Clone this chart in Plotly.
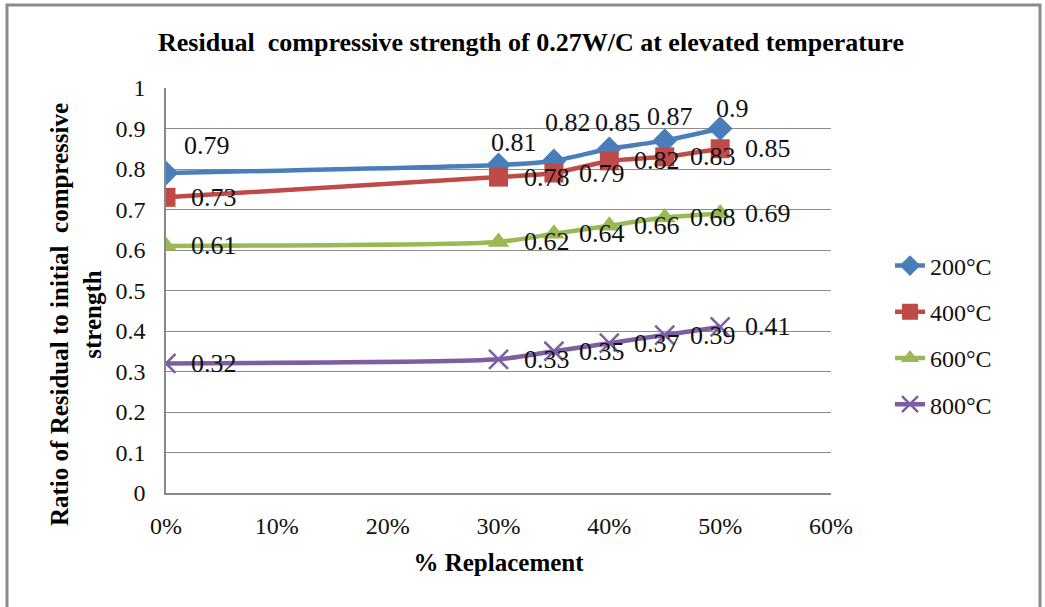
import plotly.graph_objects as go

x_vals = [0.0, 0.30, 0.35, 0.40, 0.45, 0.50]
series_names = ["200°C", "400°C", "600°C", "800°C"]
s200 = [0.79, 0.81, 0.82, 0.85, 0.87, 0.90]
s400 = [0.73, 0.78, 0.79, 0.82, 0.83, 0.85]
s600 = [0.61, 0.62, 0.64, 0.66, 0.68, 0.69]
s800 = [0.32, 0.33, 0.35, 0.37, 0.39, 0.41]
x_ticks = [0, 0.1, 0.2, 0.3, 0.4, 0.5, 0.6]
x_ticklabels = ["0%", "10%", "20%", "30%", "40%", "50%", "60%"]
y_ticks = [0, 0.1, 0.2, 0.3, 0.4, 0.5, 0.6, 0.7, 0.8, 0.9, 1]

colors = ["#4a7ebb", "#be4b48", "#98b954", "#7d5fa0"]
symbols = ["diamond", "square", "triangle-up", "x-thin"]
msizes = [19, 19, 19, 19]
all_series = [s200, s400, s600, s800]

# label offsets (pixels) per series: 200°C above, others right
label_dx = {0: [41, 15, 14, 9, 5, 12]}
label_dy = {0: [-28, -22, -38, -26, -24, -20]}

FONT = "Liberation Serif, Times New Roman, serif"

fig = go.Figure()
annotations = []
for i, (name, ys) in enumerate(zip(series_names, all_series)):
    marker = dict(symbol=symbols[i], size=msizes[i], color=colors[i])
    if symbols[i] == "x-thin":
        marker["line"] = dict(color=colors[i], width=2.5)
    fig.add_trace(go.Scatter(
        x=x_vals, y=ys, name=name, mode="lines+markers",
        line=dict(color=colors[i], width=4.5, shape="spline", smoothing=0.6),
        marker=marker, legendgroup=name,
    ))
    for j, (xv, yv) in enumerate(zip(x_vals, ys)):
        if i in label_dx:
            dx, dy = label_dx[i][j], label_dy[i][j]
        else:
            dx, dy = 48, 0
        annotations.append(dict(
            x=xv, y=yv, xref="x", yref="y", text=f"{yv:g}", showarrow=False,
            xshift=dx, yshift=-dy, xanchor="center", yanchor="middle",
            font=dict(family=FONT, size=26, color="#111111"),
        ))

annotations.append(dict(
    x=-0.135, y=0.44, xref="paper", yref="paper", textangle=-90,
    text="<b>Ratio of Residual to initial  compressive<br>strength</b>",
    showarrow=False, xanchor="center", yanchor="middle",
    font=dict(family=FONT, size=25, color="#000000"),
))

L, R, T, B = 166, 214, 88, 114
W, H = 1045, 607
pw, ph = W - L - R, H - T - B

def px2paper_x(px):
    return (px - L) / pw

def px2paper_y(py):
    return (H - B - py) / ph

fig.update_layout(
    width=W, height=H,
    margin=dict(l=L, r=R, t=T, b=B, pad=0),
    paper_bgcolor="white", plot_bgcolor="white",
    title=dict(text="<b>Residual  compressive strength of 0.27W/C at elevated temperature</b>",
               x=531 / W, xanchor="center", y=1 - 42 / H, yanchor="middle",
               font=dict(family=FONT, size=26, color="#000000")),
    font=dict(family=FONT, size=24, color="#111111"),
    showlegend=True,
    legend=dict(x=px2paper_x(890), xanchor="left", y=px2paper_y(335), yanchor="middle",
                font=dict(family=FONT, size=24, color="#111111"),
                traceorder="grouped", tracegroupgap=12, bgcolor="rgba(0,0,0,0)"),
    xaxis=dict(range=[0, 0.6], tickvals=x_ticks, ticktext=x_ticklabels,
               showgrid=False, zeroline=False, showline=True, linecolor="#888888",
               linewidth=1.5, ticks="", ticklabelstandoff=10,
               title=dict(text="<b>% Replacement</b>", font=dict(family=FONT, size=25, color="#000000"),
                          standoff=16),
               tickfont=dict(family=FONT, size=24, color="#111111")),
    yaxis=dict(range=[0, 1], tickvals=y_ticks, showgrid=True, gridcolor="#8c8c8c", gridwidth=1.3,
               zeroline=False, showline=True, linecolor="#888888", linewidth=1.5, ticks="",
               ticklabelstandoff=14,
               tickfont=dict(family=FONT, size=24, color="#111111")),
    annotations=annotations,
    shapes=[dict(type="rect", xref="paper", yref="paper",
                 x0=px2paper_x(7), x1=px2paper_x(1040), y0=px2paper_y(640), y1=px2paper_y(5),
                 line=dict(color="#8a8a8a", width=3), fillcolor="rgba(0,0,0,0)", layer="below")],
)

fig.write_html("out.html")
